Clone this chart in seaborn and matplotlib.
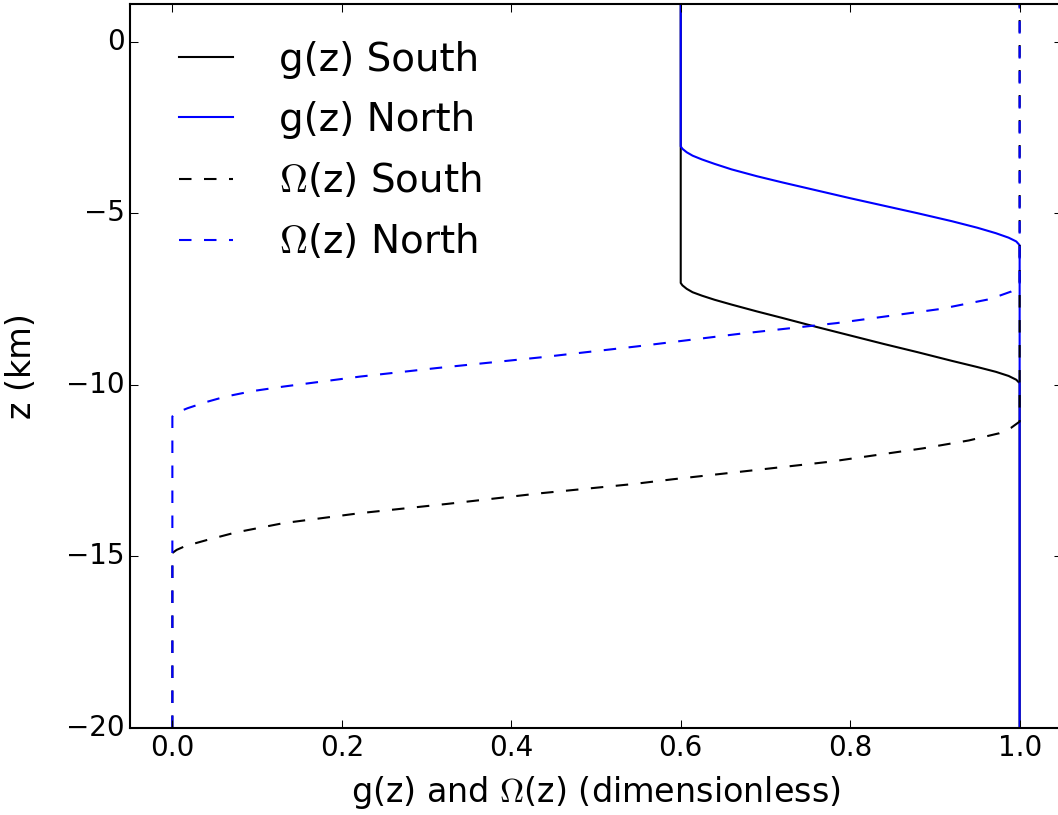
import numpy as np
import matplotlib
matplotlib.use("Agg")
import matplotlib.pyplot as plt
import seaborn as sns

# ── data (value, depth in km) ─────────────────────────────────────────────────
g_south_val = [0.6, 0.600, 0.602, 0.607, 0.614, 0.625, 0.640, 0.660, 0.690, 0.720, 0.760,
               0.800, 0.840, 0.880, 0.920, 0.950, 0.972, 0.987, 0.996, 1.0, 1.0]
g_south_z   = [1.1, -7.03, -7.10, -7.20, -7.30, -7.40, -7.52, -7.66, -7.86, -8.05, -8.31,
               -8.56, -8.81, -9.05, -9.30, -9.48, -9.62, -9.74, -9.85, -9.95, -20.0]

g_north_val = [0.6, 0.600, 0.602, 0.607, 0.614, 0.625, 0.640, 0.660, 0.690, 0.720, 0.760,
               0.800, 0.840, 0.880, 0.920, 0.950, 0.972, 0.987, 0.996, 1.0, 1.0]
g_north_z   = [1.1, -3.05, -3.12, -3.22, -3.32, -3.43, -3.56, -3.72, -3.92, -4.10, -4.33,
               -4.56, -4.78, -5.00, -5.23, -5.42, -5.58, -5.71, -5.82, -5.93, -20.0]

om_south_val = [0.0, 0.0, 0.005, 0.015, 0.041, 0.075, 0.131, 0.221, 0.324, 0.434, 0.544,
                0.591, 0.682, 0.776, 0.886, 0.940, 0.976, 0.990, 1.0, 1.0]
om_south_z   = [-20.0, -14.90, -14.81, -14.70, -14.52, -14.30, -14.03, -13.74, -13.47, -13.16, -12.89,
                -12.75, -12.50, -12.24, -11.85, -11.62, -11.41, -11.25, -11.07, 1.1]

om_north_val = [0.0, 0.0, 0.004, 0.018, 0.040, 0.063, 0.095, 0.131, 0.221, 0.312, 0.434,
                0.548, 0.670, 0.784, 0.906, 0.965, 0.990, 1.0, 1.0]
om_north_z   = [-20.0, -10.92, -10.82, -10.68, -10.50, -10.34, -10.18, -10.05, -9.76, -9.51, -9.20,
                -8.88, -8.51, -8.20, -7.79, -7.50, -7.28, -7.13, 1.1]

x_ticks = [0.0, 0.2, 0.4, 0.6, 0.8, 1.0]
z_ticks = [0, -5, -10, -15, -20]

# ── style ─────────────────────────────────────────────────────────────────────
plt.style.use("classic")
plt.rcParams["font.family"] = ["DejaVu Sans"]
plt.rcParams["mathtext.fontset"] = "cm"

fig = plt.figure(figsize=(10.58, 8.15), dpi=100, facecolor="white")
ax = fig.add_axes([130 / 1058, 87 / 815, 932 / 1058, 724 / 815])

dash = (0, (9, 9))
sns.lineplot(x=g_south_val, y=g_south_z, sort=False, estimator=None, color="k", lw=1.5,
             label="g(z) South", ax=ax)
sns.lineplot(x=g_north_val, y=g_north_z, sort=False, estimator=None, color="b", lw=1.5,
             label="g(z) North", ax=ax)
sns.lineplot(x=om_south_val, y=om_south_z, sort=False, estimator=None, color="k", lw=1.5,
             linestyle=dash, label=r"$\Omega$(z) South", ax=ax)
sns.lineplot(x=om_north_val, y=om_north_z, sort=False, estimator=None, color="b", lw=1.5,
             linestyle=dash, label=r"$\Omega$(z) North", ax=ax)

ax.set_xlim(-0.05, 1.05)
ax.set_ylim(-20, 1.1)
ax.set_xticks(x_ticks)
ax.set_yticks(z_ticks)
ax.tick_params(labelsize=20, length=6, width=0.75, direction="in", top=True, right=True)
for sp in ax.spines.values():
    sp.set_linewidth(1.5)
ax.set_xlabel(r"g(z) and $\Omega$(z) (dimensionless)", fontsize=24, labelpad=9)
ax.set_ylabel("z (km)", fontsize=24, labelpad=20)

leg = ax.legend(loc="upper left", fontsize=28, frameon=False, handlelength=2.0,
                handletextpad=0.88, labelspacing=0.57, borderaxespad=0.55)

plt.savefig("out.png", dpi=100, facecolor="white")
